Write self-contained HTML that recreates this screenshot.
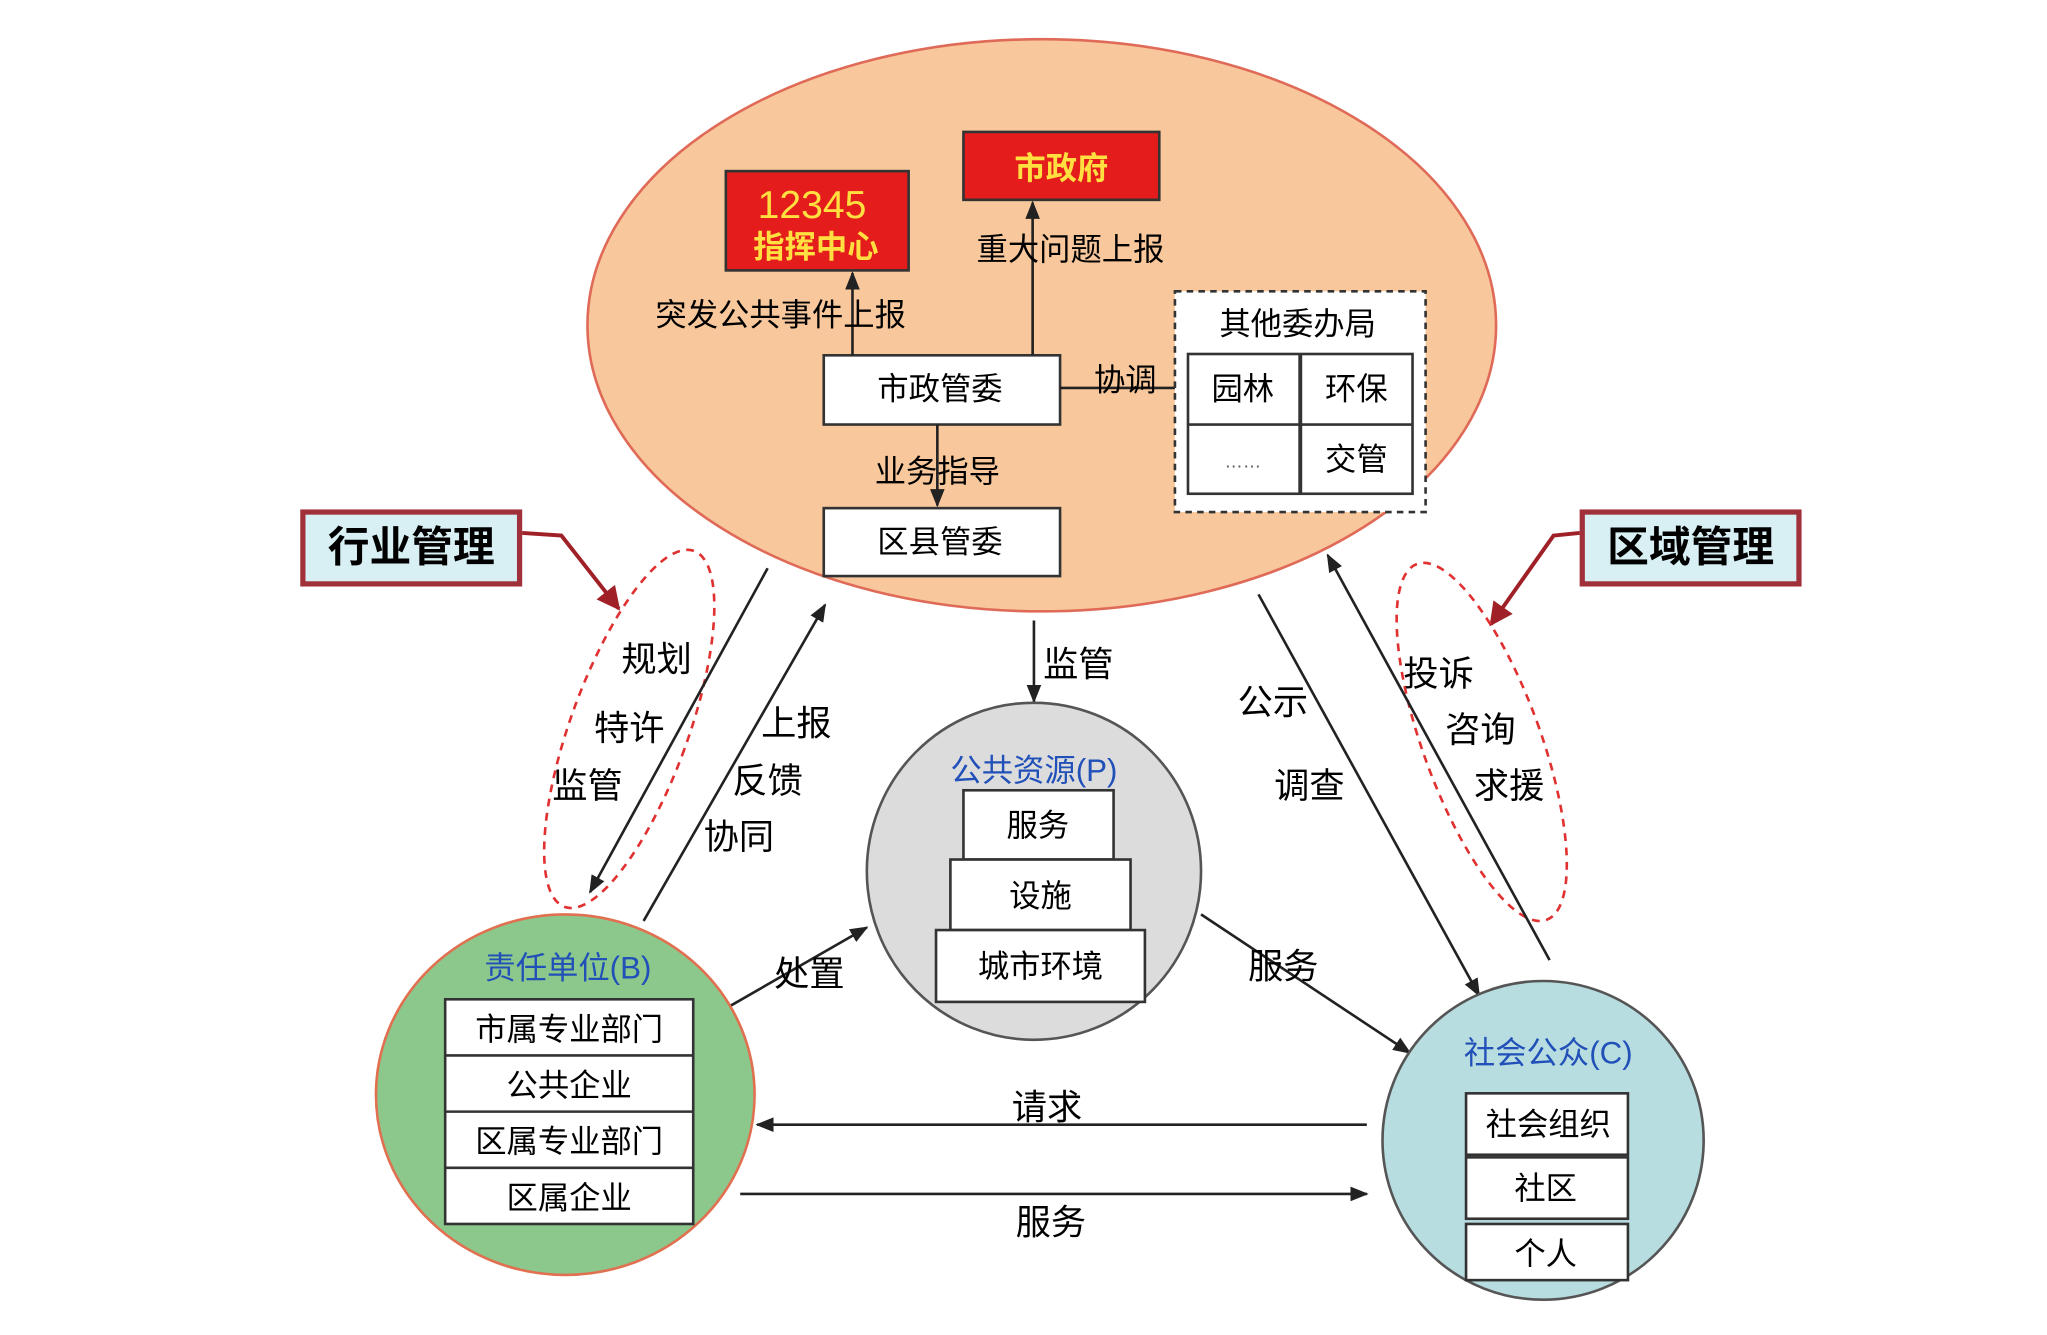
<!DOCTYPE html>
<html><head><meta charset="utf-8"><style>
html,body{margin:0;padding:0;background:#fff;}
svg{display:block;}
text{font-family:"Liberation Sans","Noto Sans CJK SC","WenQuanYi Zen Hei",sans-serif;}
</style></head><body>
<svg width="2047" height="1335" viewBox="0 0 1568 1022" preserveAspectRatio="none" xmlns="http://www.w3.org/2000/svg">
<defs>
<marker id="a" viewBox="0 0 10 10" refX="9" refY="5" markerWidth="7" markerHeight="7" orient="auto-start-reverse"><path d="M0,1 L10,5 L0,9 z" fill="#222"/></marker>
<marker id="r" viewBox="0 0 10 10" refX="9" refY="5" markerWidth="6" markerHeight="6" orient="auto"><path d="M0,0 L10,5 L0,10 z" fill="#a02028"/></marker>
</defs>
<rect width="1568" height="1022" fill="#fff"/>
<ellipse cx="798" cy="249" rx="348" ry="219" fill="#f8c89c" stroke="#e06a58" stroke-width="2"/>
<rect x="556" y="131" width="140" height="76" fill="#e41c1c" stroke="#333" stroke-width="2"/>
<text x="622" y="167" font-size="30" fill="#ffe040" text-anchor="middle">12345</text>
<text x="625" y="197" font-size="24" font-weight="bold" fill="#ffe040" text-anchor="middle">指挥中心</text>
<rect x="738" y="101" width="150" height="52" fill="#e41c1c" stroke="#333" stroke-width="2"/>
<text x="813" y="137" font-size="24" font-weight="bold" fill="#ffe040" text-anchor="middle">市政府</text>
<rect x="631" y="272" width="181" height="53" fill="#fff" stroke="#333" stroke-width="2"/>
<text x="720" y="306" font-size="24" text-anchor="middle">市政管委</text>
<rect x="631" y="389" width="181" height="52" fill="#fff" stroke="#333" stroke-width="2"/>
<text x="720" y="423" font-size="24" text-anchor="middle">区县管委</text>
<line x1="653" y1="272" x2="653" y2="209" stroke="#222" stroke-width="2" marker-end="url(#a)"/>
<line x1="791" y1="272" x2="791" y2="155" stroke="#222" stroke-width="2" marker-end="url(#a)"/>
<line x1="718" y1="325" x2="718" y2="387" stroke="#222" stroke-width="2" marker-end="url(#a)"/>
<line x1="812" y1="297" x2="910" y2="297" stroke="#222" stroke-width="2"/>
<text x="598" y="249" font-size="24" text-anchor="middle">突发公共事件上报</text>
<text x="820" y="199" font-size="24" text-anchor="middle">重大问题上报</text>
<text x="862" y="299" font-size="24" text-anchor="middle">协调</text>
<text x="718" y="369" font-size="24" text-anchor="middle">业务指导</text>
<rect x="900" y="223" width="192" height="169" fill="#fff" stroke="#333" stroke-width="2" stroke-dasharray="5,4"/>
<text x="994" y="256" font-size="24" text-anchor="middle">其他委办局</text>
<rect x="910" y="271" width="172" height="107" fill="#fff" stroke="#333" stroke-width="2"/>
<line x1="996" y1="271" x2="996" y2="378" stroke="#333" stroke-width="3"/>
<line x1="910" y1="325" x2="1082" y2="325" stroke="#333" stroke-width="2"/>
<text x="952" y="306" font-size="24" text-anchor="middle">园林</text>
<text x="1039" y="306" font-size="24" text-anchor="middle">环保</text>
<text x="952" y="358" font-size="14" fill="#555" text-anchor="middle">……</text>
<text x="1039" y="360" font-size="24" text-anchor="middle">交管</text>
<rect x="232" y="392" width="166" height="55" fill="#d8f0f4" stroke="#a0303a" stroke-width="4"/>
<text x="315" y="430" font-size="32" font-weight="bold" text-anchor="middle">行业管理</text>
<polyline points="400,408 430,410 474,466" fill="none" stroke="#a02028" stroke-width="3" marker-end="url(#r)"/>
<rect x="1212" y="392" width="166" height="55" fill="#d8f0f4" stroke="#a0303a" stroke-width="4"/>
<text x="1295" y="430" font-size="32" font-weight="bold" text-anchor="middle">区域管理</text>
<polyline points="1210,408 1190,410 1142,478" fill="none" stroke="#a02028" stroke-width="3" marker-end="url(#r)"/>
<ellipse cx="482" cy="558" rx="45" ry="145" transform="rotate(20 482 558)" fill="none" stroke="#e03030" stroke-width="2" stroke-dasharray="6,5"/>
<ellipse cx="1135" cy="568" rx="45" ry="145" transform="rotate(-20 1135 568)" fill="none" stroke="#e03030" stroke-width="2" stroke-dasharray="6,5"/>
<line x1="588" y1="435" x2="452" y2="683" stroke="#222" stroke-width="2" marker-end="url(#a)"/>
<line x1="493" y1="705" x2="632" y2="463" stroke="#222" stroke-width="2" marker-end="url(#a)"/>
<line x1="792" y1="475" x2="792" y2="537" stroke="#222" stroke-width="2" marker-end="url(#a)"/>
<line x1="964" y1="455" x2="1133" y2="762" stroke="#222" stroke-width="2" marker-end="url(#a)"/>
<line x1="1187" y1="735" x2="1017" y2="425" stroke="#222" stroke-width="2" marker-end="url(#a)"/>
<line x1="556" y1="772" x2="664" y2="710" stroke="#222" stroke-width="2" marker-end="url(#a)"/>
<line x1="920" y1="700" x2="1080" y2="806" stroke="#222" stroke-width="2" marker-end="url(#a)"/>
<line x1="1047" y1="861" x2="580" y2="861" stroke="#222" stroke-width="2" marker-end="url(#a)"/>
<line x1="567" y1="914" x2="1047" y2="914" stroke="#222" stroke-width="2" marker-end="url(#a)"/>
<g font-size="27" text-anchor="middle">
<text x="503" y="514">规划</text><text x="482" y="567">特许</text><text x="450" y="611">监管</text>
<text x="610" y="563">上报</text><text x="588" y="607">反馈</text><text x="566" y="650">协同</text>
<text x="826" y="518">监管</text>
<text x="975" y="547">公示</text><text x="1003" y="611">调查</text>
<text x="1102" y="525">投诉</text><text x="1134" y="568">咨询</text><text x="1156" y="611">求援</text>
<text x="620" y="755">处置</text><text x="983" y="749">服务</text>
<text x="802" y="857">请求</text><text x="805" y="945">服务</text>
</g>
<ellipse cx="792" cy="667" rx="128" ry="129" fill="#dcdcdc" stroke="#555" stroke-width="2"/>
<text x="792" y="598" font-size="24" fill="#2050b8" text-anchor="middle">公共资源(P)</text>
<rect x="738" y="605" width="115" height="53" fill="#fff" stroke="#333" stroke-width="2"/>
<text x="795" y="640" font-size="24" text-anchor="middle">服务</text>
<rect x="728" y="658" width="138" height="54" fill="#fff" stroke="#333" stroke-width="2"/>
<text x="797" y="694" font-size="24" text-anchor="middle">设施</text>
<rect x="717" y="712" width="160" height="55" fill="#fff" stroke="#333" stroke-width="2"/>
<text x="797" y="748" font-size="24" text-anchor="middle">城市环境</text>
<ellipse cx="433" cy="838" rx="145" ry="138" fill="#8cc88c" stroke="#e07050" stroke-width="2"/>
<text x="435" y="749" font-size="24" fill="#2050b8" text-anchor="middle">责任单位(B)</text>
<rect x="341" y="765" width="190" height="172" fill="#fff" stroke="#333" stroke-width="2"/>
<line x1="341" y1="808" x2="531" y2="808" stroke="#333" stroke-width="2"/>
<line x1="341" y1="851" x2="531" y2="851" stroke="#333" stroke-width="2"/>
<line x1="341" y1="894" x2="531" y2="894" stroke="#333" stroke-width="2"/>
<g font-size="24" text-anchor="middle">
<text x="436" y="796">市属专业部门</text><text x="436" y="839">公共企业</text>
<text x="436" y="882">区属专业部门</text><text x="436" y="925">区属企业</text>
</g>
<ellipse cx="1182" cy="873" rx="123" ry="122" fill="#b8dde0" stroke="#555" stroke-width="2"/>
<text x="1186" y="814" font-size="24" fill="#2050b8" text-anchor="middle">社会公众(C)</text>
<rect x="1123" y="837" width="124" height="47" fill="#fff" stroke="#333" stroke-width="2"/>
<rect x="1123" y="886" width="124" height="47" fill="#fff" stroke="#333" stroke-width="2"/>
<rect x="1123" y="937" width="124" height="43" fill="#fff" stroke="#333" stroke-width="2"/>
<g font-size="24" text-anchor="middle">
<text x="1186" y="869">社会组织</text><text x="1184" y="918">社区</text><text x="1184" y="968">个人</text>
</g>
</svg>
</body></html>
